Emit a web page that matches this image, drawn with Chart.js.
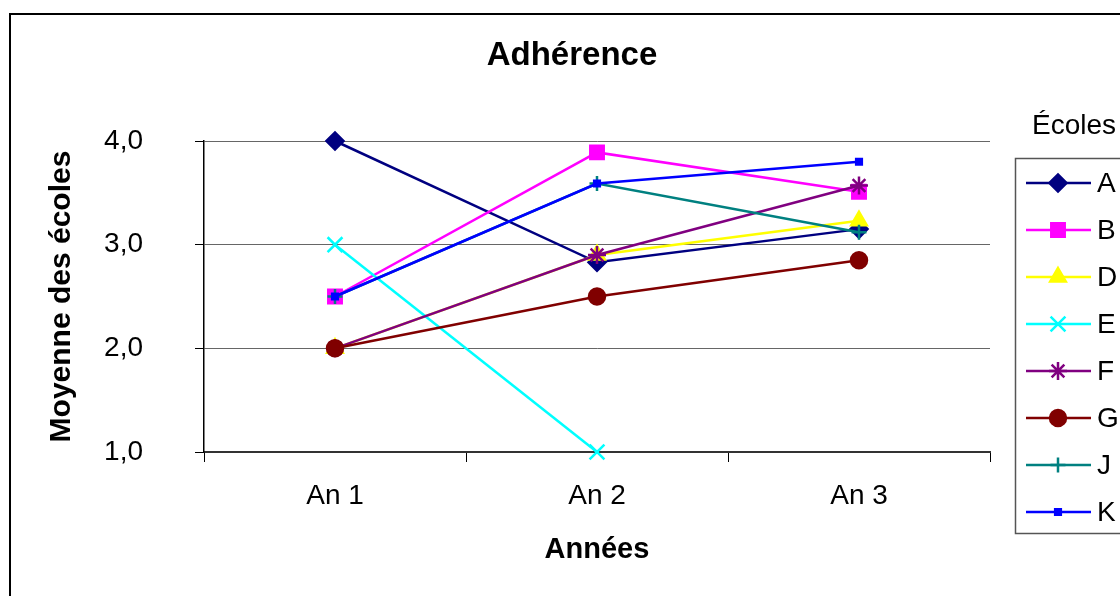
<!DOCTYPE html>
<html>
<head>
<meta charset="utf-8">
<script src="https://cdn.jsdelivr.net/npm/chart.js@4/dist/chart.umd.min.js"></script>
<style>
  html, body { margin: 0; padding: 0; background: #fff; }
  #wrap { width: 1120px; height: 596px; }
</style>
</head>
<body>
<div id="wrap"><canvas id="adherenceChart" width="1120" height="596"></canvas></div>
<script>
// data
const years = ['An 1', 'An 2', 'An 3'];
const schools = ['A', 'B', 'D', 'E', 'F', 'G', 'J', 'K'];
const schoolA = [4.0, 2.83, 3.15];
const schoolB = [2.5, 3.89, 3.51];
const schoolD = [2.0, 2.90, 3.23];
const schoolE = [3.0, 1.0, null];
const schoolF = [2.0, 2.90, 3.57];
const schoolG = [2.0, 2.50, 2.85];
const schoolJ = [2.5, 3.59, 3.12];
const schoolK = [2.5, 3.59, 3.80];
const yTicks = [1, 2, 3, 4];

const seriesValues = [schoolA, schoolB, schoolD, schoolE, schoolF, schoolG, schoolJ, schoolK];
const colors = ['#000080', '#ff00ff', '#ffff00', '#00ffff', '#800080', '#800000', '#008080', '#0000ff'];
const markers = ['rectRot', 'rect', 'triangle', 'crossRot', 'star', 'circle', 'cross', 'rect'];
const markerSize = [8.5, 9.5, 9, 10.5, 9, 8, 7.5, 4];

const FONT = '"Liberation Sans", Arial, sans-serif';

const datasets = schools.map((name, i) => ({
    label: name,
    data: seriesValues[i],
    borderColor: colors[i],
    backgroundColor: colors[i],
    borderWidth: 2.5,
    pointStyle: markers[i],
    pointRadius: markerSize[i],
    pointHoverRadius: markerSize[i],
    pointBackgroundColor: colors[i],
    pointBorderColor: colors[i],
    pointBorderWidth: 2.5,
    tension: 0,
    spanGaps: false,
    clip: false,
    order: schools.length - i   // later series painted on top, like the original
}));

// frame, title and boxed legend
const decor = {
    id: 'decor',
    beforeDraw(chart) {
        const ctx = chart.ctx;
        ctx.save();
        ctx.fillStyle = '#fff';
        ctx.fillRect(0, 0, chart.width, chart.height);
        ctx.strokeStyle = '#000';
        ctx.lineWidth = 2;
        ctx.strokeRect(10, 14, 1200, 700);
        ctx.restore();
    },
    afterDraw(chart) {
        const ctx = chart.ctx;
        ctx.save();
        ctx.fillStyle = '#000';
        ctx.textBaseline = 'middle';
        ctx.textAlign = 'center';
        ctx.font = 'bold 33px ' + FONT;
        ctx.fillText('Adhérence', 572, 56);

        ctx.textAlign = 'left';
        ctx.font = '28px ' + FONT;
        ctx.fillText('Écoles', 1032, 126);

        ctx.strokeStyle = '#555';
        ctx.lineWidth = 1.5;
        ctx.strokeRect(1015.5, 158.5, 200, 375);

        schools.forEach((name, i) => {
            const y = 183 + i * 47;
            ctx.strokeStyle = colors[i];
            ctx.lineWidth = 2.5;
            ctx.beginPath();
            ctx.moveTo(1026, y);
            ctx.lineTo(1091, y);
            ctx.stroke();
            ctx.fillStyle = colors[i];
            ctx.strokeStyle = colors[i];
            Chart.helpers.drawPoint(ctx, {
                pointStyle: markers[i],
                radius: markerSize[i],
                borderWidth: 2.5,
                rotation: 0
            }, 1058, y);
            ctx.fillStyle = '#000';
            ctx.font = '28px ' + FONT;
            ctx.fillText(name, 1097, y + 1);
        });
        ctx.restore();
    }
};

new Chart(document.getElementById('adherenceChart'), {
    type: 'line',
    data: { labels: years, datasets: datasets },
    options: {
        responsive: false,
        animation: false,
        devicePixelRatio: 1,
        layout: { padding: { top: 141, left: 0, right: 130, bottom: 24 } },
        plugins: {
            legend: { display: false },
            title: { display: false },
            tooltip: { enabled: false }
        },
        scales: {
            x: {
                offset: true,
                afterFit(scale) { scale.height = 120; },
                grid: {
                    offset: true,
                    drawOnChartArea: false,
                    tickLength: 10,
                    color: '#000',
                    tickColor: '#000'
                },
                border: { color: '#333', width: 2 },
                ticks: {
                    color: '#000',
                    padding: 17,
                    font: { family: FONT, size: 28 }
                },
                title: {
                    display: true,
                    text: 'Années',
                    color: '#000',
                    padding: { top: 0, bottom: 5 },
                    font: { family: FONT, size: 29, weight: 'bold' }
                }
            },
            y: {
                min: 1,
                max: 4,
                afterFit(scale) { scale.width = 204; },
                afterBuildTicks(scale) { scale.ticks = yTicks.map(v => ({ value: v })); },
                grid: {
                    color: '#666',
                    tickColor: '#000',
                    tickLength: 9,
                    lineWidth: 1
                },
                border: { color: '#000', width: 1.5 },
                ticks: {
                    color: '#000',
                    padding: 52,
                    font: { family: FONT, size: 28 },
                    callback: v => v.toFixed(1).replace('.', ',')
                },
                title: {
                    display: true,
                    text: 'Moyenne des écoles',
                    color: '#000',
                    padding: { top: 44, bottom: 0 },
                    font: { family: FONT, size: 30, weight: 'bold' }
                }
            }
        }
    },
    plugins: [decor]
});
</script>
</body>
</html>
